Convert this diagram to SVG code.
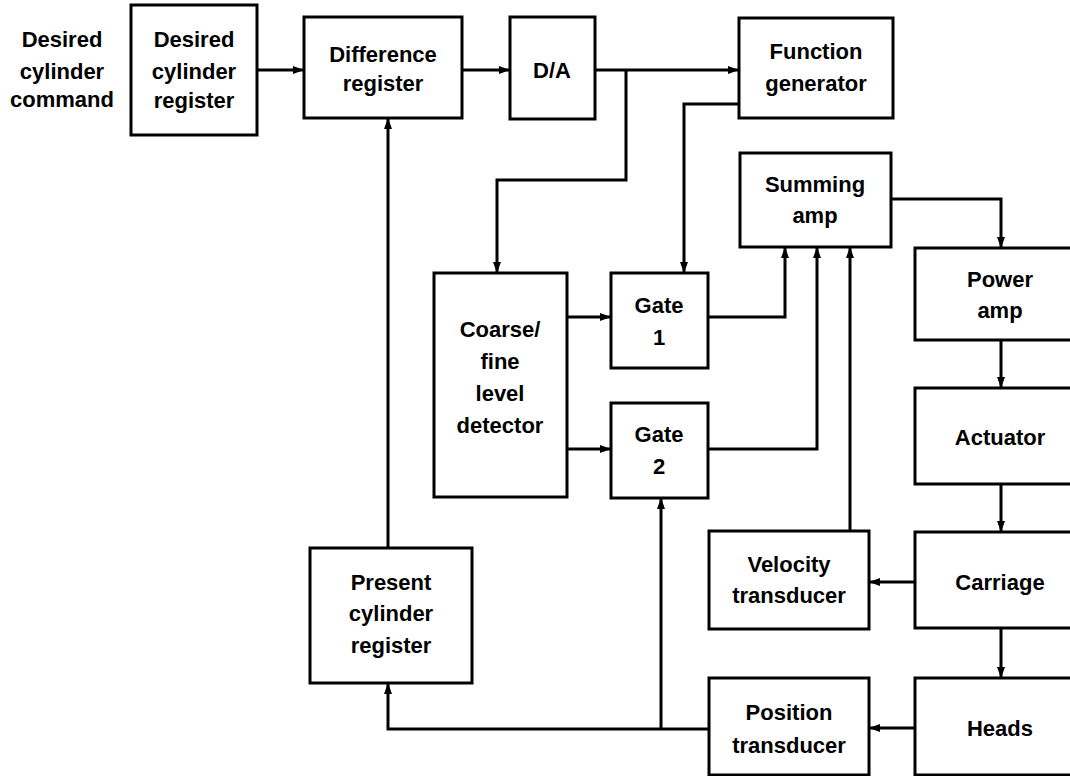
<svg xmlns="http://www.w3.org/2000/svg" width="1070" height="776" viewBox="0 0 1070 776">
<style>
.box{fill:#fff;stroke:#000;stroke-width:3}
.t{font-family:"Liberation Sans",Arial,sans-serif;font-weight:bold;font-size:22px;text-anchor:middle;fill:#000}
.c{fill:none;stroke:#000;stroke-width:3}
</style>
<defs>
<marker id="ah" markerUnits="userSpaceOnUse" markerWidth="12" markerHeight="10" refX="11" refY="4" orient="auto">
<path d="M0,0 L11,4 L0,8 z" fill="#000"/>
</marker>
</defs>
<rect width="1070" height="776" fill="#fff"/>
<g id="connectors">
<path class="c" d="M257,70 H304" marker-end="url(#ah)"/>
<path class="c" d="M462,70 H510" marker-end="url(#ah)"/>
<path class="c" d="M595,70 H739" marker-end="url(#ah)"/>
<path class="c" d="M626,70 V180 H497 V273" marker-end="url(#ah)"/>
<path class="c" d="M739,104 H684 V273" marker-end="url(#ah)"/>
<path class="c" d="M567,317 H611" marker-end="url(#ah)"/>
<path class="c" d="M567,449 H611" marker-end="url(#ah)"/>
<path class="c" d="M708,317 H785 V247" marker-end="url(#ah)"/>
<path class="c" d="M708,449 H817 V247" marker-end="url(#ah)"/>
<path class="c" d="M850,531 V247" marker-end="url(#ah)"/>
<path class="c" d="M891,199 H1001 V248" marker-end="url(#ah)"/>
<path class="c" d="M1001,340 V388" marker-end="url(#ah)"/>
<path class="c" d="M1001,484 V532" marker-end="url(#ah)"/>
<path class="c" d="M1001,628 V678" marker-end="url(#ah)"/>
<path class="c" d="M915,582 H869" marker-end="url(#ah)"/>
<path class="c" d="M915,728 H869" marker-end="url(#ah)"/>
<path class="c" d="M709,729 H388 V683" marker-end="url(#ah)"/>
<path class="c" d="M661,729 V498" marker-end="url(#ah)"/>
<path class="c" d="M388,548 V118" marker-end="url(#ah)"/>
</g>
<g id="cmd">
<text class="t" x="62" y="47">Desired</text>
<text class="t" x="62" y="79">cylinder</text>
<text class="t" x="62" y="107">command</text>
</g>
<g id="desired-reg">
<rect class="box" x="131" y="5" width="126" height="130"/>
<text class="t" x="194" y="47">Desired</text>
<text class="t" x="194" y="79">cylinder</text>
<text class="t" x="194" y="108">register</text>
</g>
<g id="diff-reg">
<rect class="box" x="304" y="17" width="158" height="101"/>
<text class="t" x="383" y="62">Difference</text>
<text class="t" x="383" y="91">register</text>
</g>
<g id="da">
<rect class="box" x="510" y="17" width="85" height="102"/>
<text class="t" x="552" y="78">D/A</text>
</g>
<g id="func-gen">
<rect class="box" x="739" y="18" width="154" height="100"/>
<text class="t" x="816" y="59">Function</text>
<text class="t" x="816" y="91">generator</text>
</g>
<g id="summing">
<rect class="box" x="740" y="153" width="151" height="94"/>
<text class="t" x="815" y="192">Summing</text>
<text class="t" x="815" y="223">amp</text>
</g>
<g id="power">
<rect class="box" x="915" y="248" width="172" height="92"/>
<text class="t" x="1000" y="287">Power</text>
<text class="t" x="1000" y="318">amp</text>
</g>
<g id="actuator">
<rect class="box" x="915" y="388" width="172" height="96"/>
<text class="t" x="1000" y="445">Actuator</text>
</g>
<g id="carriage">
<rect class="box" x="915" y="532" width="172" height="96"/>
<text class="t" x="1000" y="590">Carriage</text>
</g>
<g id="heads">
<rect class="box" x="915" y="678" width="172" height="97"/>
<text class="t" x="1000" y="736">Heads</text>
</g>
<g id="velocity">
<rect class="box" x="709" y="531" width="160" height="98"/>
<text class="t" x="789" y="572">Velocity</text>
<text class="t" x="789" y="603">transducer</text>
</g>
<g id="position">
<rect class="box" x="709" y="678" width="160" height="97"/>
<text class="t" x="789" y="720">Position</text>
<text class="t" x="789" y="753">transducer</text>
</g>
<g id="coarse-fine">
<rect class="box" x="434" y="273" width="133" height="224"/>
<text class="t" x="500" y="337">Coarse/</text>
<text class="t" x="500" y="369">fine</text>
<text class="t" x="500" y="401">level</text>
<text class="t" x="500" y="433">detector</text>
</g>
<g id="gate1">
<rect class="box" x="611" y="273" width="97" height="95"/>
<text class="t" x="659" y="313">Gate</text>
<text class="t" x="659" y="345">1</text>
</g>
<g id="gate2">
<rect class="box" x="611" y="403" width="97" height="95"/>
<text class="t" x="659" y="442">Gate</text>
<text class="t" x="659" y="474">2</text>
</g>
<g id="present-reg">
<rect class="box" x="310" y="548" width="162" height="135"/>
<text class="t" x="391" y="590">Present</text>
<text class="t" x="391" y="621">cylinder</text>
<text class="t" x="391" y="653">register</text>
</g>
</svg>
